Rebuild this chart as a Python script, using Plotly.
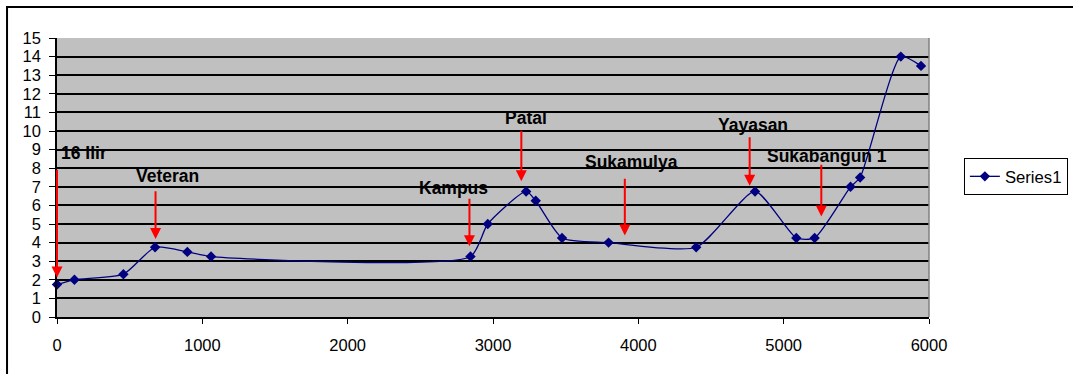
import plotly.graph_objects as go

# Elevation profile along the route (distance in m, value on left axis)
distance = [0, 120, 457, 675, 897, 1060, 2845, 2964, 3228, 3294, 3475, 3795,
            4398, 4803, 5087, 5213, 5460, 5526, 5806, 5945]
elevation = [1.75, 2.0, 2.3, 3.75, 3.5, 3.25, 3.25, 5.0, 6.75, 6.25, 4.25, 4.0,
             3.75, 6.75, 4.25, 4.25, 7.0, 7.5, 14.0, 13.5]

# Place names written on the chart
place_names = ["16 Ilir", "Veteran", "Kampus", "Patal", "Sukamulya",
               "Yayasan", "Sukabangun 1", "Sukabangun 2"]
label_x = [183, 763, 2730, 3225, 3955, 4787, 5298, 5841]
label_y = [8.84, 7.59, 6.93, 10.69, 8.36, 10.33, 8.66, 15.39]

# Red pointer arrows (first seven places)
arrow_x = [0, 678, 2838, 3195, 3907, 4766, 5259]
arrow_top = [8.0, 6.84, 6.44, 10.1, 7.52, 9.74, 8.27]
arrow_tip = [2.12, 4.2, 3.8, 7.3, 4.38, 7.06, 5.4]

x_ticks = [0, 1000, 2000, 3000, 4000, 5000, 6000]
y_ticks = list(range(0, 16))

NAVY = "#000080"
FONT = "Liberation Sans, Arial, sans-serif"

fig = go.Figure()
fig.add_trace(go.Scatter(
    x=distance, y=elevation, name="Series1",
    mode="lines+markers",
    line=dict(color=NAVY, width=1.3, shape="spline", smoothing=0.6),
    marker=dict(symbol="diamond", size=8, color=NAVY),
    cliponaxis=False,
))

annotations = []
for name, lx, ly in zip(place_names, label_x, label_y):
    annotations.append(dict(
        x=lx, y=ly, xref="x", yref="y", text="<b>%s</b>" % name,
        showarrow=False, font=dict(family=FONT, size=17.5, color="black"),
        xanchor="center", yanchor="middle",
    ))
for ax_, top, tip in zip(arrow_x, arrow_top, arrow_tip):
    annotations.append(dict(
        x=ax_, y=tip, ax=ax_, ay=top, xref="x", yref="y",
        axref="x", ayref="y", text="", showarrow=True,
        arrowhead=2, arrowsize=1.1, arrowwidth=2, arrowcolor="#FF0000",
    ))

fig.update_layout(
    width=1073, height=374,
    margin=dict(l=57, r=144, t=38, b=57, autoexpand=False),
    paper_bgcolor="white",
    plot_bgcolor="#C0C0C0",
    font=dict(family=FONT, size=16.5, color="black"),
    showlegend=True,
    legend=dict(
        x=1.04, y=0.57, xanchor="left", yanchor="top",
        bgcolor="white", bordercolor="black", borderwidth=1,
        font=dict(family=FONT, size=16.7, color="black"),
    ),
    annotations=annotations,
    shapes=[
        # outer chart frame
        dict(type="rect", xref="paper", yref="paper",
             x0=-0.0573, x1=1.2, y0=1.111, y1=-0.3,
             line=dict(color="black", width=2), layer="below"),
        # right edge of the plot area
        dict(type="line", xref="paper", yref="paper",
             x0=1, x1=1, y0=0, y1=1,
             line=dict(color="#808080", width=1.5)),
    ],
)

fig.update_xaxes(
    range=[0, 6000], tickvals=x_ticks, showgrid=False, zeroline=False,
    showline=True, linecolor="black", linewidth=1.5,
    ticks="outside", ticklen=5, tickcolor="black", tickwidth=1,
    ticklabelstandoff=7,
)
fig.update_yaxes(
    range=[0, 15], tickvals=y_ticks, showgrid=True, gridcolor="black",
    gridwidth=1.6, zeroline=False,
    showline=True, linecolor="black", linewidth=1.5,
    ticks="outside", ticklen=6, tickcolor="black", tickwidth=1,
    ticklabelstandoff=5,
)

fig.write_html("out.html")
